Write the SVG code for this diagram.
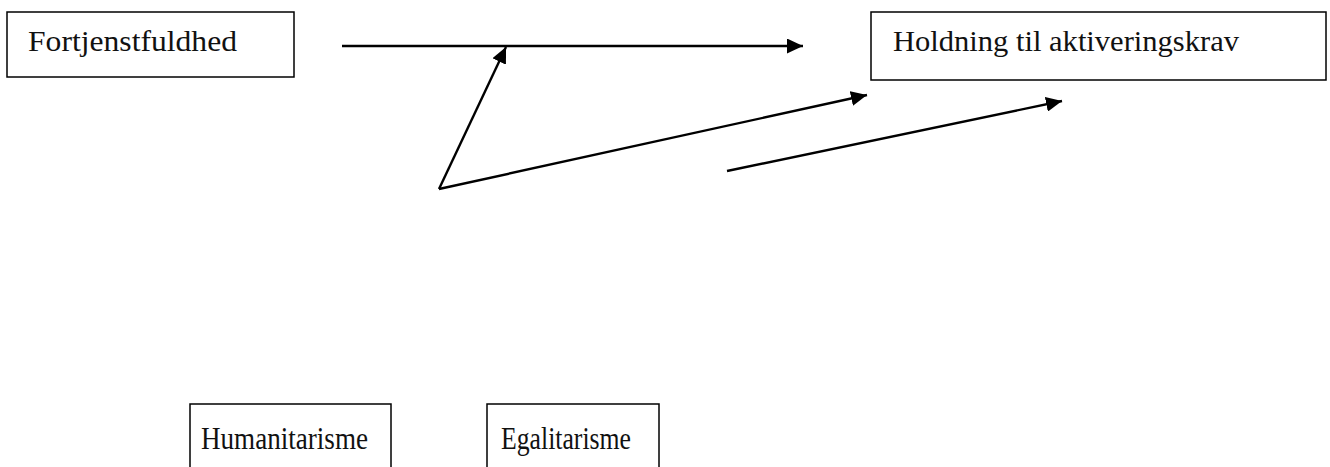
<svg xmlns="http://www.w3.org/2000/svg" width="1330" height="467" viewBox="0 0 1330 467">
<style>
.box{fill:#fff;stroke:#000;stroke-width:1.5}
.lbl{font-family:"Liberation Serif","DejaVu Serif",serif;font-size:29px;fill:#111}
.big{font-size:32px}
.con{stroke:#000;stroke-width:2.4;fill:none;marker-end:url(#ah)}
</style>
<defs>
<marker id="ah" markerUnits="userSpaceOnUse" markerWidth="17" markerHeight="15" refX="16" refY="7.5" orient="auto">
<path d="M0,0 L16,7.5 L0,15 Z" fill="#000"/>
</marker>
</defs>
<rect width="1330" height="467" fill="#fff"/>
<g id="fortjenstfuldhed">
<rect class="box" x="7" y="12" width="287" height="65"/>
<text class="lbl" x="28" y="51" textLength="209" lengthAdjust="spacingAndGlyphs">Fortjenstfuldhed</text>
</g>
<g id="holdning">
<rect class="box" x="871" y="12" width="455" height="68"/>
<text class="lbl" x="893" y="51" textLength="346" lengthAdjust="spacingAndGlyphs">Holdning til aktiveringskrav</text>
</g>
<g id="humanitarisme">
<rect class="box" x="190" y="404" width="201" height="80"/>
<text class="lbl big" x="201" y="449" textLength="167" lengthAdjust="spacingAndGlyphs">Humanitarisme</text>
</g>
<g id="egalitarisme">
<rect class="box" x="487" y="404" width="172" height="80"/>
<text class="lbl big" x="501" y="449" textLength="130" lengthAdjust="spacingAndGlyphs">Egalitarisme</text>
</g>
<g id="connectors">
<line class="con" x1="342" y1="46" x2="803" y2="46"/>
<line class="con" x1="439" y1="189" x2="506" y2="47"/>
<line class="con" x1="439" y1="189" x2="867" y2="95"/>
<line class="con" x1="727" y1="171" x2="1062" y2="101"/>
</g>
</svg>
